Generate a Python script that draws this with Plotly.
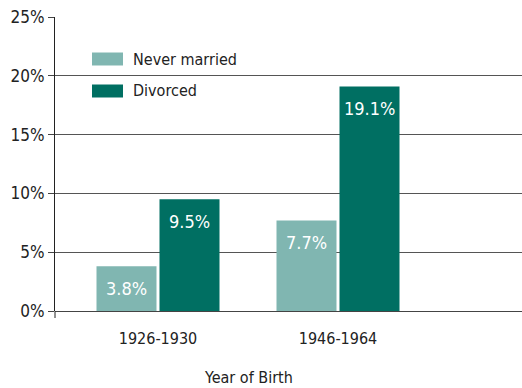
import plotly.graph_objects as go

# Share of adults by marital status, by birth cohort
cohorts = ["1926-1930", "1946-1964"]
series_names = ["Never married", "Divorced"]
never_married = [3.8, 7.7]
divorced = [9.5, 19.1]
y_ticks = [0, 5, 10, 15, 20, 25]

colors = ["#80B6B1", "#006F62"]
FONT = "DejaVu Sans Condensed, sans-serif"
TEXT = "#222222"
SIZE = 16

x_pos = list(range(len(cohorts)))
values = [never_married, divorced]

fig = go.Figure()
for name, vals, col in zip(series_names, values, colors):
    fig.add_trace(go.Bar(x=x_pos, y=vals, name=name, marker=dict(color=col, line=dict(width=0)),
                         showlegend=False))

# value labels inside the top of each bar
slot = 0.175
for i, vals in enumerate(values):
    off = -slot if i == 0 else slot
    for xp, v in zip(x_pos, vals):
        fig.add_annotation(x=xp + off, y=v, text=f"{v:.1f}%", showarrow=False,
                           yshift=-22, font=dict(family=FONT, size=18, color="white"),
                           xref="x", yref="y")

# legend drawn as swatches with labels
legend_rows = [(59, 0), (91, 1)]
for yc, i in legend_rows:
    fig.add_shape(type="rect", xref="paper", yref="paper",
                  x0=(92 - 55) / 467, x1=(123 - 55) / 467,
                  y0=(311 - yc - 6.5) / 294, y1=(311 - yc + 6.5) / 294,
                  fillcolor=colors[i], line=dict(width=0), layer="above")
    fig.add_annotation(xref="paper", yref="paper", x=(131 - 55) / 467, y=(311 - yc) / 294,
                       text=series_names[i], showarrow=False, xanchor="left", yanchor="middle",
                       font=dict(family=FONT, size=SIZE, color=TEXT))

# axis title
fig.add_annotation(xref="paper", yref="paper", x=(248 - 55) / 467, y=(311 - 377) / 294,
                   text="Year of Birth", showarrow=False, xanchor="center", yanchor="middle",
                   font=dict(family=FONT, size=SIZE, color=TEXT))

# small downward extension of the value axis below the baseline
fig.add_shape(type="line", xref="paper", yref="paper", x0=0, x1=0, y0=0, y1=-7 / 294,
              line=dict(color="#222222", width=1))

fig.update_layout(
    width=522, height=388,
    margin=dict(l=55, r=0, t=17, b=77),
    plot_bgcolor="white", paper_bgcolor="white",
    barmode="group", bargap=0.3, bargroupgap=0.0476,
    font=dict(family=FONT, size=SIZE, color=TEXT),
    xaxis=dict(range=[-103 / 180, 364 / 180], tickmode="array", tickvals=x_pos, ticktext=cohorts,
               showgrid=False, zeroline=False, showline=False, ticks="",
               ticklabelstandoff=16,
               tickfont=dict(family=FONT, size=SIZE, color=TEXT)),
    yaxis=dict(range=[0, 25], tickmode="array", tickvals=y_ticks,
               ticktext=[f"{t}%" for t in y_ticks],
               showgrid=True, gridcolor="#555555", gridwidth=1,
               zeroline=True, zerolinecolor="#444444", zerolinewidth=1,
               showline=True, linecolor="#222222", linewidth=1,
               ticks="outside", ticklen=6, tickcolor="#444444",
               tickfont=dict(family=FONT, size=SIZE + 1, color=TEXT)),
)

fig.write_html("out.html")
